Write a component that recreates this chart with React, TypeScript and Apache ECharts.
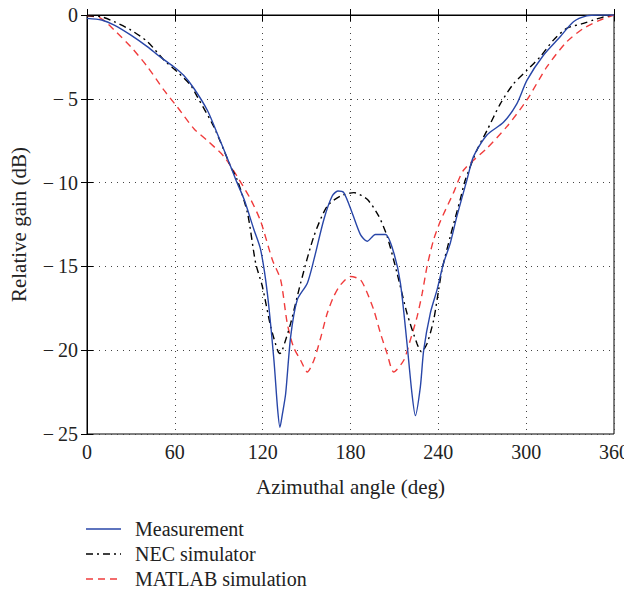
import React, { useEffect, useRef } from "react";
import * as echarts from "echarts";

const measAngle = [0, 10, 18.6, 30, 41.4, 50, 59.5, 66, 73.2, 82.3, 89.1, 98.2, 102, 107.3, 114, 118.6, 123.2, 127.7, 130.2, 131.8, 133.5, 135.7, 139.1, 143.6, 150.5, 155, 161.8, 167.5, 171.4, 175.4, 181.1, 186.8, 191.4, 197, 203.9, 209.6, 214.1, 218.6, 222, 224.3, 227.7, 230, 234.5, 239.1, 243.6, 248.2, 252.7, 259.5, 264, 273.2, 284.5, 293.6, 300.5, 311.8, 323.2, 332.3, 341.3, 350, 360];
const measGain = [-0.2, -0.3, -0.6, -1.2, -1.9, -2.5, -3.1, -3.6, -4.4, -5.7, -7.1, -9.05, -9.9, -11.0, -12.8, -14.0, -16.6, -20.6, -23.5, -24.6, -23.8, -22.6, -19.2, -17.0, -16.0, -14.6, -12.2, -10.8, -10.5, -10.6, -11.8, -13.1, -13.5, -13.1, -13.1, -14.2, -16.0, -19.6, -22.6, -23.9, -22.2, -20.0, -17.8, -16.4, -14.8, -13.6, -12.0, -9.85, -8.45, -7.16, -6.4, -5.3, -3.9, -2.4, -1.3, -0.4, -0.05, 0, 0];

const necAngle = [0, 9.5, 18.6, 30, 41.4, 52.7, 61.8, 70.9, 75.5, 86.8, 98.2, 102.7, 109.6, 115.2, 119.8, 125.5, 130.2, 131.8, 133.4, 139.1, 145.9, 155, 164.1, 173.2, 182.3, 191.4, 199.3, 205, 211.8, 218.6, 225.4, 228.5, 232.3, 236.8, 240.2, 242.5, 248.2, 255, 258.4, 266.4, 273.2, 282.3, 291.4, 300.5, 309.5, 318.6, 327.7, 339.1, 345.9, 355, 360];
const necGain = [-0.05, -0.1, -0.4, -0.9, -1.6, -2.7, -3.4, -4.2, -4.9, -6.7, -9.05, -9.85, -11.8, -14.8, -16.2, -18.6, -20.0, -20.2, -20.0, -18.4, -16.0, -13.2, -11.4, -10.8, -10.6, -11.0, -12.0, -13.2, -15.4, -17.8, -19.6, -20.1, -19.6, -18.2, -16.4, -15.2, -13.2, -11.0, -9.85, -8.05, -6.9, -5.3, -4.1, -3.3, -2.5, -1.5, -0.8, -0.5, -0.3, -0.06, 0];

const matAngle = [0, 9.5, 18.6, 30, 41.4, 52.7, 61.8, 73.2, 82.3, 93.6, 102.7, 111.8, 118.6, 126.6, 132.3, 136.8, 141, 145.9, 150.5, 155, 159.5, 164.1, 168.5, 173.2, 180, 186.8, 191, 195.9, 200.5, 205, 209.5, 216.4, 220.5, 225.5, 229, 232.3, 236.8, 241.4, 250.4, 257.3, 273.2, 286.8, 300.5, 314.1, 327.7, 339.1, 350.5, 360];
const matGain = [-0.05, -0.2, -0.9, -1.9, -3.1, -4.5, -5.5, -6.8, -7.5, -8.45, -9.65, -11.0, -12.3, -14.6, -15.8, -18.4, -19.8, -20.6, -21.3, -20.6, -19.3, -17.8, -16.8, -16.1, -15.6, -15.8, -16.5, -17.6, -19.0, -20.2, -21.3, -20.6, -19.5, -18.0, -16.6, -15.0, -13.4, -12.3, -10.6, -9.25, -7.95, -6.66, -5.07, -3.1, -1.6, -0.8, -0.3, 0];

const xTicks = [0, 60, 120, 180, 240, 300, 360];
const yTicks = [0, -5, -10, -15, -20, -25];

const seriesNames = ["Measurement", "NEC simulator", "MATLAB simulation"];
const seriesColors = ["#2846a8", "#000000", "#f03c3c"];
const seriesDash: (number[] | null)[] = [null, [7, 4, 2, 4], [7, 5]];

const pair = (a: number[], b: number[]) => a.map((v, i) => [v, b[i]]);

const FONT = "Liberation Serif";

export default function App() {
  const ref = useRef<HTMLDivElement>(null);
  useEffect(() => {
    if (!ref.current) return;
    const chart = echarts.init(ref.current, null, { renderer: "svg" });
    const grid = "#444";
    const commonSplit = { show: true, lineStyle: { color: grid, type: [1, 5], width: 1 } };
    const legendRows = [529, 554, 579];
    const legendGraphics: any[] = [];
    seriesNames.forEach((n, i) => {
      legendGraphics.push({
        type: "line",
        shape: { x1: 86, y1: legendRows[i], x2: 121, y2: legendRows[i] },
        style: { stroke: seriesColors[i], lineWidth: 1.4, lineDash: seriesDash[i] || undefined },
      });
      legendGraphics.push({
        type: "text",
        x: 135,
        y: legendRows[i],
        style: { text: n, fontFamily: FONT, fontSize: 20, fill: "#222", verticalAlign: "middle", align: "left" },
      });
    });
    chart.setOption({
      animation: false,
      backgroundColor: "#fff",
      grid: { left: 86, right: 18, top: 15, bottom: 158, show: true, borderColor: "#000", borderWidth: 1 },
      graphic: legendGraphics,
      xAxis: [
        {
          type: "value",
          min: 0,
          max: 360,
          interval: 60,
          position: "bottom",
          name: "Azimuthal angle (deg)",
          nameLocation: "middle",
          nameGap: 42,
          nameTextStyle: { fontFamily: FONT, fontSize: 21, color: "#222" },
          axisLine: { show: true, lineStyle: { color: "#000" } },
          axisTick: { show: true, inside: true, length: 6, lineStyle: { color: "#000" } },
          axisLabel: { fontFamily: FONT, fontSize: 20, color: "#222", margin: 8, formatter: (v: number) => (xTicks.includes(v) ? String(v) : "") },
          splitLine: commonSplit,
        },
        {
          type: "value",
          min: 0,
          max: 360,
          interval: 60,
          position: "top",
          axisLine: { show: true, lineStyle: { color: "#000" } },
          axisTick: { show: true, inside: true, length: 6, lineStyle: { color: "#000" } },
          axisLabel: { show: false },
          splitLine: { show: false },
        },
      ],
      yAxis: [
        {
          type: "value",
          min: -25,
          max: 0,
          interval: 5,
          position: "left",
          name: "Relative gain (dB)",
          nameLocation: "middle",
          nameGap: 58,
          nameTextStyle: { fontFamily: FONT, fontSize: 21, color: "#222" },
          axisLine: { show: true, lineStyle: { color: "#000" } },
          axisTick: { show: true, inside: true, length: 6, lineStyle: { color: "#000" } },
          axisLabel: {
            fontFamily: FONT,
            fontSize: 20,
            color: "#222",
            margin: 9,
            formatter: (v: number) => (yTicks.includes(v) ? String(v).replace("-", "\u2212\u2009") : ""),
          },
          splitLine: commonSplit,
        },
        {
          type: "value",
          min: -25,
          max: 0,
          interval: 5,
          position: "right",
          axisLine: { show: true, lineStyle: { color: "#000" } },
          axisTick: { show: true, inside: true, length: 6, lineStyle: { color: "#000" } },
          axisLabel: { show: false },
          splitLine: { show: false },
        },
      ],
      series: seriesNames.map((n, i) => ({
        name: n,
        type: "line",
        data: [pair(measAngle, measGain), pair(necAngle, necGain), pair(matAngle, matGain)][i],
        symbol: "none",
        smooth: 0.25,
        lineStyle: { color: seriesColors[i], width: 1.4, type: seriesDash[i] || "solid" },
        itemStyle: { color: seriesColors[i] },
        z: 3 - i,
      })),
    });
    return () => chart.dispose();
  }, []);
  return <div ref={ref} style={{ width: 632, height: 592, marginLeft: -8, marginTop: -8 }} />;
}
